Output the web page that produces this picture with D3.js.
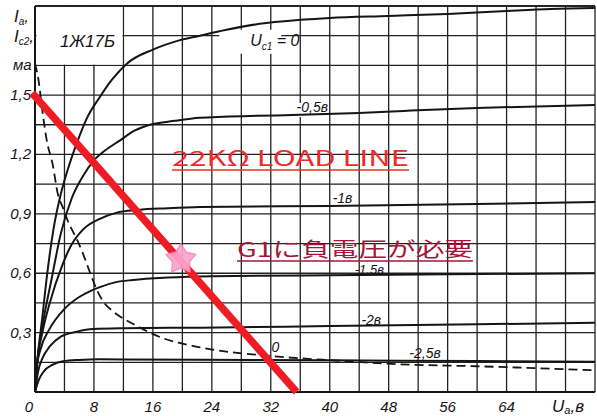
<!DOCTYPE html>
<html><head><meta charset="utf-8">
<script src="https://cdn.jsdelivr.net/npm/d3@7"></script>
<style>body{margin:0;background:#fff}svg{display:block}</style>
</head><body><svg id="c" width="597" height="416"></svg>
<script>
// ---- data ----
const xTicks = [0, 8, 16, 24, 32, 40, 48, 56, 64];
const yTicks = [0.3, 0.6, 0.9, 1.2, 1.5];
const yTickLabels = ["0,3", "0,6", "0,9", "1,2", "1,5"];
const gridStepX = 4, gridStepY = 0.15;

const ug0   = [[0,0],[0.3,0.15],[1,0.38],[1.6,0.58],[2.5,0.82],[3.5,1.0],[4.5,1.13],[5.8,1.27],[7,1.38],[8.8,1.49],[10.5,1.58],[12.5,1.66],[16,1.73],[19,1.77],[22.4,1.8],[26,1.83],[30.5,1.86],[36,1.88],[40,1.89],[48,1.9],[56,1.91],[64,1.925],[70,1.935],[76,1.94]];
const ugM05 = [[0,0],[0.3,0.15],[1,0.33],[2.3,0.58],[3.5,0.8],[5,0.98],[6.5,1.09],[8,1.17],[9.5,1.22],[11.5,1.27],[13.5,1.32],[15.6,1.35],[19,1.37],[22.4,1.385],[30,1.395],[36,1.40],[44,1.41],[50,1.42],[60,1.435],[76,1.45]];
const ugM1  = [[0,0],[0.3,0.15],[1,0.3],[2,0.45],[3.7,0.64],[4.75,0.73],[6.5,0.82],[8.8,0.875],[11,0.905],[14,0.92],[18,0.928],[22.4,0.934],[40,0.94],[60,0.95],[76,0.96]];
const ugM15 = [[0,0],[0.3,0.14],[0.7,0.21],[2,0.32],[4,0.42],[6,0.48],[7.5,0.51],[8.8,0.53],[11,0.555],[13.3,0.566],[18,0.578],[24,0.585],[40,0.59],[76,0.6]];
const ugM2  = [[0,0],[0.4,0.1],[1,0.17],[2,0.23],[3.5,0.28],[5.7,0.305],[7.9,0.318],[12,0.322],[22.4,0.325],[40,0.333],[60,0.342],[76,0.35]];
const ugM25 = [[0,0],[0.5,0.06],[1.1,0.1],[2.5,0.14],[3.8,0.155],[6,0.162],[8.8,0.165],[22.4,0.163],[40,0.16],[60,0.156],[76,0.153]];
const ic2   = [[0,1.66],[0.5,1.57],[1,1.42],[1.6,1.27],[2.4,1.15],[3.1,1.0],[3.8,0.93],[4.5,0.86],[5.7,0.77],[6.5,0.7],[7.7,0.58],[8.4,0.515],[9.2,0.46],[10.5,0.41],[12.5,0.36],[14,0.33],[15.6,0.3],[17.5,0.27],[20,0.245],[22.4,0.225],[26.8,0.2],[30.5,0.187],[36,0.17],[40.4,0.16],[49.5,0.14],[60,0.13],[76,0.11]];
const loadLine = [[-0.4,1.51],[35.5,0]];
const opPoint = [19.8, 0.67];

const curveNames = ["0", "-0,5в", "-1в", "-1,5в", "-2в", "-2,5в"];
const curveLabelAt = [[29.2,1.75],[35.5,1.414],[40.4,0.955],[43.4,0.596],[44.3,0.338],[50.8,0.172]];
const ic2Label = "0", ic2LabelAt = [32.1, 0.202];

// ---- chart ----
const svg = d3.select("#c");
const x = d3.scaleLinear().domain([0, 76]).range([35, 595]);
const y = d3.scaleLinear().domain([0, 1.95]).range([392, 6]);
const ink = "#151515";
const font = "'Liberation Sans Narrow','Liberation Sans',Arial,sans-serif";

svg.append("rect").attr("width", 597).attr("height", 416).attr("fill", "#fff");

const gx = d3.range(0, 76 + 0.001, gridStepX);
const gy = d3.range(0, 14).map(i => +(i * gridStepY).toFixed(2));
const grid = svg.append("g").attr("stroke", "#222").attr("stroke-width", 1.3);
grid.selectAll(".vx").data(gx).join("line")
  .attr("x1", d => x(d)).attr("x2", d => x(d)).attr("y1", y(0)).attr("y2", y(1.95));
grid.selectAll(".hy").data(gy).join("line")
  .attr("x1", x(0)).attr("x2", x(76)).attr("y1", d => y(d)).attr("y2", d => y(d));
// frame
svg.append("line").attr("x1", x(0)).attr("x2", x(0)).attr("y1", y(0)).attr("y2", y(1.95)).attr("stroke", ink).attr("stroke-width", 2);
svg.append("line").attr("x1", x(0)).attr("x2", x(76)).attr("y1", y(0)).attr("y2", y(0)).attr("stroke", ink).attr("stroke-width", 2);
svg.append("line").attr("x1", x(0)).attr("x2", x(76)).attr("y1", y(1.95)).attr("y2", y(1.95)).attr("stroke", ink).attr("stroke-width", 1.6);

// title box (no grid inside)
svg.append("rect").attr("x", x(0) + 1.5).attr("y", y(1.95) + 1).attr("width", x(12) - x(0) - 2.5).attr("height", y(1.65) - y(1.95) - 1.8).attr("fill", "#fff");
svg.append("text").attr("x", 60).attr("y", 47).attr("font-family", font).attr("font-style", "italic").attr("font-size", 17).attr("fill", ink).text("1Ж17Б");

// label backgrounds
const bgs = [[x(25), y(1.83), 62, 24], [x(35), y(1.46), 36, 14]];
svg.selectAll(".bg").data(bgs).join("rect").attr("x", d => d[0]).attr("y", d => d[1]).attr("width", d => d[2]).attr("height", d => d[3]).attr("fill", "#fff");

// curves
const line = d3.line().x(d => x(d[0])).y(d => y(d[1])).curve(d3.curveMonotoneX);
const curves = [ug0, ugM05, ugM1, ugM15, ugM2, ugM25];
svg.append("g").selectAll("path").data(curves).join("path")
  .attr("d", line).attr("fill", "none").attr("stroke", ink).attr("stroke-width", 2);
svg.append("path").attr("d", line(ic2)).attr("fill", "none").attr("stroke", ink)
  .attr("stroke-width", 1.8).attr("stroke-dasharray", "9,5");

// curve labels
const lab = svg.append("g").attr("font-family", font).attr("font-style", "italic").attr("font-size", 14).attr("fill", ink);
curveNames.forEach((n, i) => {
  const t = lab.append("text").attr("x", x(curveLabelAt[i][0])).attr("y", y(curveLabelAt[i][1]));
  if (i === 0) {
    t.attr("font-size", 16);
    t.append("tspan").text("U");
    t.append("tspan").attr("font-size", 10).attr("dy", 4).text("c1");
    t.append("tspan").attr("dy", -4).text(" = " + n);
  } else t.text(n);
  if (i === 3) t.attr("font-size", 13);
});
lab.append("text").attr("x", x(ic2LabelAt[0])).attr("y", y(ic2LabelAt[1])).text(ic2Label);

// tick labels
const tl = svg.append("g").attr("font-family", font).attr("font-style", "italic").attr("font-size", 15).attr("fill", ink);
tl.selectAll(".xt").data(xTicks).join("text")
  .attr("x", d => d === 0 ? x(d) - 2 : x(d)).attr("y", 412)
  .attr("text-anchor", d => d === 0 ? "end" : "middle").text(d => d);
tl.selectAll(".yt").data(yTicks).join("text")
  .attr("x", 31).attr("y", d => y(d) + 5).attr("text-anchor", "end")
  .text((d, i) => yTickLabels[i]);
const xl = tl.append("text").attr("x", 552).attr("y", 412).attr("font-size", 17);
xl.append("tspan").text("U");
xl.append("tspan").attr("font-size", 11).attr("dy", 2).text("a");
xl.append("tspan").attr("dy", -2).text(",в");
const yl = svg.append("g").attr("font-family", font).attr("font-style", "italic").attr("fill", ink).attr("font-size", 17);
[["a", 22], ["c2", 42]].forEach(([s, yy]) => {
  const t = yl.append("text").attr("x", 14).attr("y", yy);
  t.append("tspan").text("I");
  t.append("tspan").attr("font-size", 10).attr("dy", 3).text(s);
  t.append("tspan").attr("dy", -3).text(",");
});
yl.append("text").attr("x", 13).attr("y", 70).attr("font-size", 15).text("ма");

// load line
svg.append("path").attr("d", d3.line().x(d => x(d[0])).y(d => y(d[1]))(loadLine))
  .attr("stroke", "#ee1c25").attr("stroke-width", 7.5).attr("fill", "none");

// operating point star
const R = 15.5, r = 8.8;
const starPts = d3.range(10).map(i => {
  const a = -Math.PI / 2 + i * Math.PI / 5, rr = i % 2 ? r : R;
  return [x(opPoint[0]) + rr * Math.cos(a), y(opPoint[1]) + rr * Math.sin(a)];
});
svg.append("path").attr("d", "M" + starPts.join("L") + "Z")
  .attr("fill", "#ffa3cf").attr("stroke", "#f48bbd").attr("stroke-width", 1.5)
  .attr("stroke-linejoin", "round").attr("opacity", 0.92);

// annotations
function note(txt, x0, base, w, color, size) {
  svg.append("text").attr("x", x0).attr("y", base).attr("fill", color)
    .attr("font-family", "'Noto Sans CJK JP','Noto Sans',sans-serif").attr("font-size", size)
    .attr("textLength", w).attr("lengthAdjust", "spacingAndGlyphs").text(txt);
  svg.append("line").attr("x1", x0).attr("x2", x0 + w).attr("y1", base + 4).attr("y2", base + 4)
    .attr("stroke", color).attr("stroke-width", 1.3);
}
note("22KΩ LOAD LINE", 172, 166, 237, "#ee2b2b", 21);
note("G1に負電圧が必要", 237, 257, 236, "#a3163a", 20);
</script></body></html>
